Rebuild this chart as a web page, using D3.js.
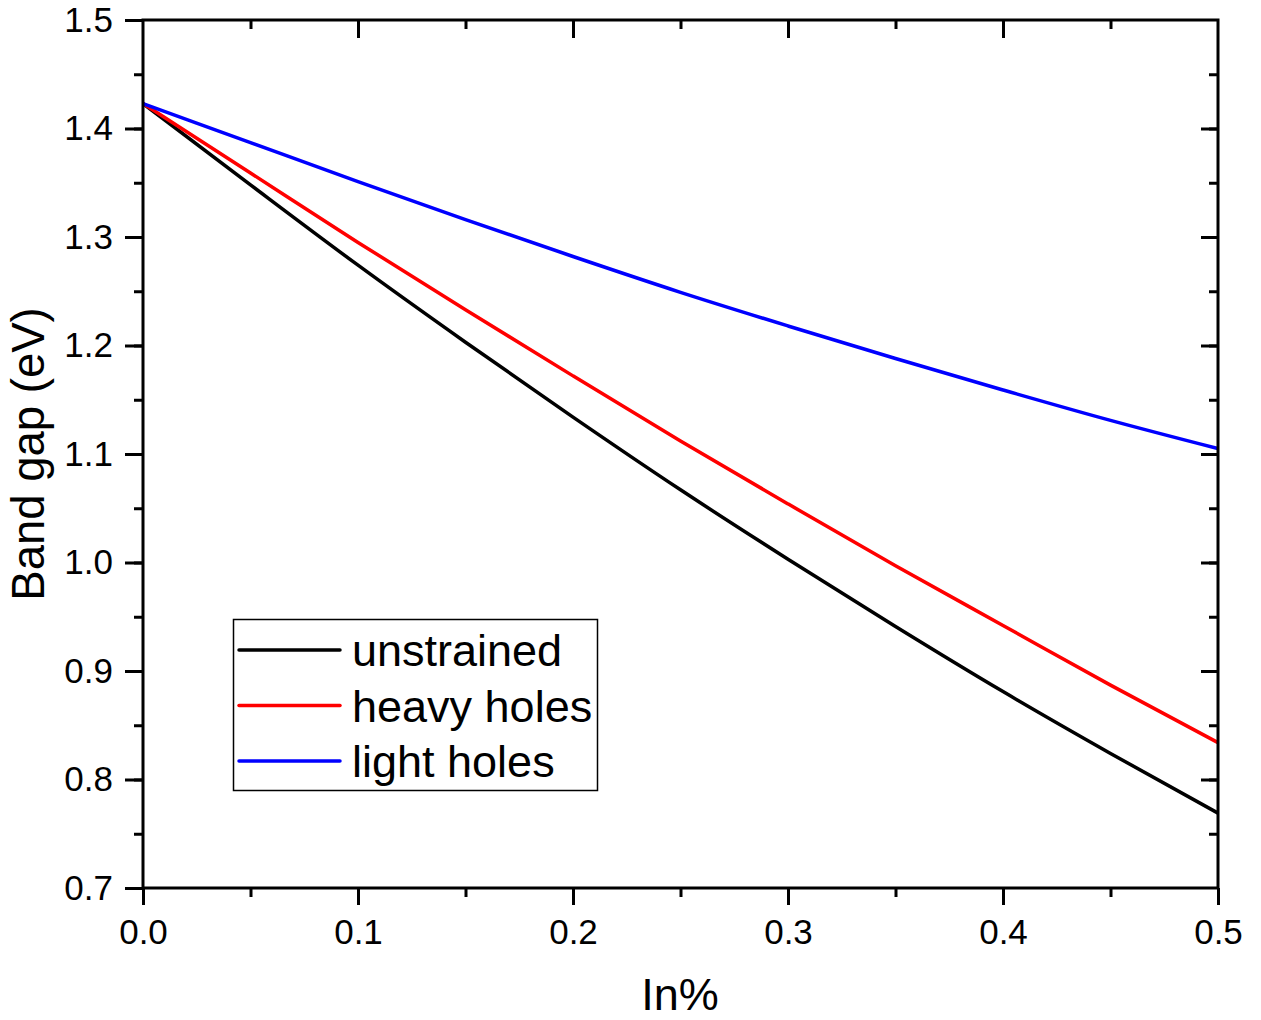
<!DOCTYPE html>
<html>
<head>
<meta charset="utf-8">
<script src="https://cdn.jsdelivr.net/npm/d3@7"></script>
<style>
  html, body { margin: 0; padding: 0; background: #fff; }
  svg { display: block; font-family: "Liberation Sans", Arial, sans-serif; }
</style>
</head>
<body>
<svg id="chart" width="1261" height="1020"></svg>
<script>
// Indium fraction (x axis)
const inFraction = [0, 0.05, 0.10, 0.15, 0.20, 0.25, 0.30, 0.35, 0.40, 0.45, 0.50];

// Band gap (eV) for each case
const unstrained  = [1.423, 1.348, 1.274, 1.203, 1.134, 1.067, 1.003, 0.941, 0.881, 0.824, 0.769];
const heavyHoles  = [1.423, 1.359, 1.295, 1.233, 1.172, 1.112, 1.054, 0.997, 0.942, 0.887, 0.834];
const lightHoles  = [1.423, 1.387, 1.351, 1.316, 1.282, 1.249, 1.218, 1.188, 1.159, 1.131, 1.105];

const seriesNames  = ["unstrained", "heavy holes", "light holes"];
const seriesColors = ["#000000", "#ff0000", "#0000ff"];

const xTickValues = [0, 0.1, 0.2, 0.3, 0.4, 0.5];
const yTickValues = [0.7, 0.8, 0.9, 1.0, 1.1, 1.2, 1.3, 1.4, 1.5];

const xLabel = "In%";
const yLabel = "Band gap (eV)";

const svg = d3.select("#chart");
const plotLeft = 143, plotRight = 1218, plotTop = 20, plotBottom = 888;

const x = d3.scaleLinear().domain([0, 0.5]).range([plotLeft, plotRight]);
const y = d3.scaleLinear().domain([0.7, 1.5]).range([plotBottom, plotTop]);

const minorX = d3.range(0, 0.5001, 0.05).map(v => +v.toFixed(2));
const minorY = d3.range(0.7, 1.5001, 0.05).map(v => +v.toFixed(2));

const tickFont = 35;
const axisStroke = 3;

function styleAxis(g) {
  g.selectAll(".domain").remove();
  g.selectAll(".tick line").attr("stroke", "#000").attr("stroke-width", axisStroke);
  g.selectAll(".tick text").attr("fill", "#000").style("font-size", tickFont + "px");
}

// bottom axis: minor ticks, then labelled major ticks
svg.append("g").attr("transform", `translate(0,${plotBottom})`)
  .call(d3.axisBottom(x).tickValues(minorX).tickSize(9).tickFormat(""))
  .call(styleAxis);
svg.append("g").attr("transform", `translate(0,${plotBottom})`)
  .call(d3.axisBottom(x).tickValues(xTickValues).tickSize(17).tickPadding(14).tickFormat(d3.format(".1f")))
  .call(styleAxis);

// left axis
svg.append("g").attr("transform", `translate(${plotLeft},0)`)
  .call(d3.axisLeft(y).tickValues(minorY).tickSize(9).tickFormat(""))
  .call(styleAxis);
svg.append("g").attr("transform", `translate(${plotLeft},0)`)
  .call(d3.axisLeft(y).tickValues(yTickValues).tickSize(18).tickPadding(12).tickFormat(d3.format(".1f")))
  .call(styleAxis);

// top mirror axis (inward ticks)
svg.append("g").attr("transform", `translate(0,${plotTop})`)
  .call(d3.axisBottom(x).tickValues(minorX.filter(v => v > 0 && v < 0.5)).tickSize(9).tickFormat(""))
  .call(styleAxis);
svg.append("g").attr("transform", `translate(0,${plotTop})`)
  .call(d3.axisBottom(x).tickValues(xTickValues.filter(v => v > 0 && v < 0.5)).tickSize(18).tickFormat(""))
  .call(styleAxis);

// right mirror axis (inward ticks)
svg.append("g").attr("transform", `translate(${plotRight},0)`)
  .call(d3.axisLeft(y).tickValues(minorY.filter(v => v > 0.7 && v < 1.5)).tickSize(9).tickFormat(""))
  .call(styleAxis);
svg.append("g").attr("transform", `translate(${plotRight},0)`)
  .call(d3.axisLeft(y).tickValues(yTickValues.filter(v => v > 0.7 && v < 1.5)).tickSize(17).tickFormat(""))
  .call(styleAxis);

// data lines
const allSeries = [unstrained, heavyHoles, lightHoles];
const line = d3.line()
  .x((d, i) => x(inFraction[i]))
  .y(d => y(d))
  .curve(d3.curveMonotoneX);

// drawn back-to-front so blue sits on top at the shared origin
[0, 1, 2].forEach(k => {
  svg.append("path")
    .datum(allSeries[k])
    .attr("fill", "none")
    .attr("stroke", seriesColors[k])
    .attr("stroke-width", 3.5)
    .attr("stroke-linejoin", "round")
    .attr("d", line);
});

// frame
svg.append("rect")
  .attr("x", plotLeft).attr("y", plotTop)
  .attr("width", plotRight - plotLeft).attr("height", plotBottom - plotTop)
  .attr("fill", "none").attr("stroke", "#000").attr("stroke-width", axisStroke);

// axis titles
svg.append("text")
  .attr("x", 680).attr("y", 1010)
  .attr("text-anchor", "middle")
  .style("font-size", "45px")
  .attr("fill", "#000")
  .text(xLabel);

svg.append("text")
  .attr("transform", `translate(44,454) rotate(-90)`)
  .attr("text-anchor", "middle")
  .style("font-size", "45.5px")
  .attr("fill", "#000")
  .text(yLabel);

// legend
const legend = svg.append("g");
legend.append("rect")
  .attr("x", 233.5).attr("y", 619.5)
  .attr("width", 364).attr("height", 171)
  .attr("fill", "#fff").attr("stroke", "#000").attr("stroke-width", 1.5);

seriesNames.forEach((name, i) => {
  const cy = 650 + i * 55.5;
  legend.append("line")
    .attr("x1", 239).attr("x2", 340)
    .attr("y1", cy).attr("y2", cy)
    .attr("stroke", seriesColors[i]).attr("stroke-width", 3.5)
    .attr("stroke-linecap", "round");
  legend.append("text")
    .attr("x", 352).attr("y", cy + 16)
    .style("font-size", "45px")
    .attr("fill", "#000")
    .text(name);
});
</script>
</body>
</html>
